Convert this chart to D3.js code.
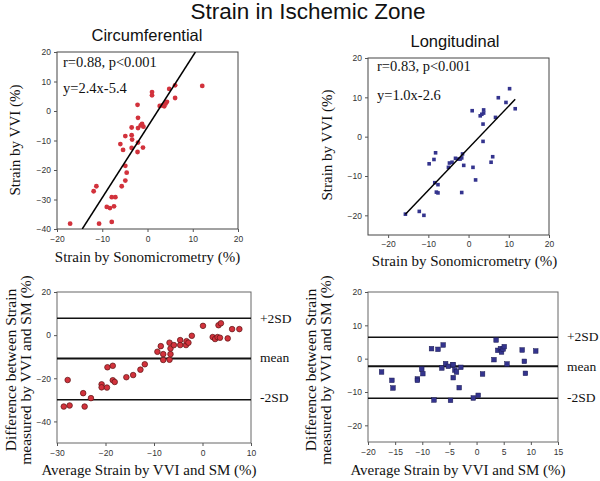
<!DOCTYPE html>
<html><head><meta charset="utf-8">
<script src="https://cdn.jsdelivr.net/npm/d3@7/dist/d3.min.js"></script>
<style>
body{margin:0;background:#fff;}
svg{display:block;}
.tick text{font-family:Arial,"Liberation Sans",sans-serif;font-size:8.5px;fill:#333;}
.serif{font-family:"Liberation Serif","Times New Roman",serif;fill:#111;}
.sans{font-family:Arial,"Liberation Sans",sans-serif;fill:#111;}
</style></head>
<body>
<svg id="c" width="600" height="481"></svg>
<script>
// ---------- Data ----------
// Circumferential: sonomicrometry (x) vs VVI (y)
const circSM  = [-17.1,-11.9,-11.3,-10.7,-9.0,-8.3,-7.9,-7.1,-7.4,-7.9,-5.7,-4.9,-4.6,-4.9,-6.0,-5.4,-4.9,-3.5,-3.4,-3.5,-3.5,-2.2,-2.1,-2.1,-2.1,-2.2,-1.5,-1.2,-1.0,-0.9,1.0,1.0,2.7,3.7,4.0,4.3,4.8,6.1,6.1,12.1,3.3];
const circVVI = [-38.2,-27.2,-25.5,-38.2,-32.5,-32.9,-29.2,-29.2,-32.3,-37.6,-25.5,-23.6,-20.9,-18.6,-11.2,-13.2,-8.5,-12.5,-9.7,-8.2,-5.6,2.1,-2.3,-5.8,-10.7,-13.9,-4.9,-4.4,-12.4,-5.3,6.4,5.3,1.7,1.6,2.5,3.1,7.5,8.7,4.4,8.5,1.9];
const circFit = {slope:2.4, intercept:-5.4};
const circStats = ["r=0.88, p<0.001","y=2.4x-5.4"];

// Longitudinal: sonomicrometry (x) vs VVI (y)
const longSM  = [-15.7,-12.25,-11.1,-9.8,-8.6,-8.2,-8.4,-7.6,-8.0,-7.6,-5.0,-4.75,-4.1,-3.25,-2.5,-1.7,-1.5,-2.1,-1.2,-1.7,0.9,1.1,1.75,2.9,3.3,3.75,3.75,3.6,3.6,5.6,6.0,6.7,7.4,9.3,10.2,11.6];
const longVVI = [-19.7,-19.0,-20.0,-6.9,-5.8,-4.1,-11.7,-12.2,-14.1,-14.3,-7.8,-6.7,-6.5,-5.5,-5.7,-5.4,-4.4,-5.7,-7.3,-14.2,6.6,-7.8,-11.0,5.3,5.7,6.8,6.0,3.2,-1.2,-6.5,-5.1,4.9,9.9,8.7,12.2,7.1];
const longFitX = [-15.7, 11.6];
const longFitY = [-19.7, 9.5];
const longStats = ["r=0.83, p<0.001","y=1.0x-2.6"];

// Bland-Altman circumferential: average (x) vs difference (y)
const baCircAvg  = [-28.6,-27.4,-27.8,-24.6,-24.3,-23.0,-20.8,-20.8,-19.7,-19.6,-18.5,-18.5,-18.1,-15.7,-14.3,-12.8,-11.9,-9.3,-8.6,-8.1,-8.1,-6.8,-6.6,-6.6,-6.8,-5.9,-4.6,-4.6,-3.4,-3.3,-2.9,-2.2,0.1,2.1,2.6,3.1,3.6,3.3,3.8,5.2,6.1,7.6];
const baCircDiff = [-33.1,-32.6,-20.8,-26.9,-33.1,-29.2,-22.8,-24.2,-24.3,-14.9,-14.2,-20.9,-21.7,-19.5,-18.5,-16.0,-13.5,-7.7,-5.1,-8.8,-11.5,-11.4,-8.8,-6.2,-3.5,-4.6,-2.3,-4.6,-4.6,-2.8,-3.5,-0.3,4.3,-0.9,-1.8,-0.9,-1.2,4.6,5.5,-1.5,2.8,2.8];
const baCircLines = [7.8,-10.8,-29.9];

// Bland-Altman longitudinal
const baLongAvg  = [-17.5,-15.6,-15.4,-10.9,-10.9,-10.1,-9.9,-8.3,-7.85,-7.1,-6.15,-6.4,-5.7,-5.2,-4.8,-4.4,-4.3,-4.0,-4.3,-3.7,-3.2,-2.9,-0.6,0.3,1.1,3.2,3.6,3.9,4.4,4.6,4.9,5.1,5.6,8.4,8.8,9.0,10.9];
const baLongDiff = [-4.0,-6.5,-8.8,-6.1,-6.5,-3.1,-4.5,3.0,-12.4,2.8,4.1,-2.8,-1.5,-2.3,-12.5,-1.9,-1.8,-3.4,-5.7,-4.0,-8.7,-2.6,-11.8,-11.0,-4.6,-0.3,5.6,2.5,3.0,2.0,2.9,3.6,-1.6,2.6,-0.8,-4.4,2.3];
const baLongLines = [6.4,-2.3,-11.9];

const sdLabels = ["+2SD","mean","-2SD"];

// Ticks
const circXTicks = [-20,-10,0,10,20], circYTicks = [-40,-30,-20,-10,0,10,20];
const longXTicks = [-20,-10,0,10,20], longYTicks = [-20,-10,0,10,20];
const baCircXTicks = [-30,-20,-10,0,10], baCircYTicks = [-40,-20,0,20];
const baLongXTicks = [-20,-15,-10,-5,0,5,10,15], baLongYTicks = [-20,-10,0,10,20];

// ---------- Drawing ----------
const svg = d3.select("#c");
const RED = "#d2323c", BLUE = "#34348e";

function panel(o){
  const x = d3.scaleLinear().domain(o.xd).range([o.l,o.r]);
  const y = d3.scaleLinear().domain(o.yd).range([o.b,o.t]);
  const g = svg.append("g");
  g.append("rect").attr("x",o.l).attr("y",o.t).attr("width",o.r-o.l).attr("height",o.b-o.t)
    .attr("fill","none").attr("stroke",o.boxColor||"#444").attr("stroke-width",1);
  const ax = g.append("g").attr("transform",`translate(0,${o.b})`)
    .call(d3.axisBottom(x).tickValues(o.xt).tickSize(3).tickSizeOuter(0).tickPadding(o.xpad||4));
  const ay = g.append("g").attr("transform",`translate(${o.l},0)`)
    .call(d3.axisLeft(y).tickValues(o.yt).tickSize(3).tickSizeOuter(0).tickPadding(3));
  [ax,ay].forEach(a=>{a.select(".domain").remove(); a.selectAll("line").attr("stroke","#555");});
  return {x,y,g};
}

function yLabel(lines, cx, cy, size){
  lines.forEach((t,i)=>{
    svg.append("text").attr("class","serif")
      .attr("transform",`translate(${cx[i]},${cy}) rotate(-90)`)
      .attr("text-anchor","middle").attr("font-size",size).text(t);
  });
}
function text(t,x,y,size,cls,anchor){
  svg.append("text").attr("class",cls).attr("x",x).attr("y",y)
    .attr("font-size",size).attr("text-anchor",anchor||"start").text(t);
}

// Titles
text("Strain in Ischemic Zone",308,19,22.5,"sans","middle");
text("Circumferential",147,41,16.5,"sans","middle");
text("Longitudinal",455,47,16.5,"sans","middle");

// Panel 1
{
  const p = panel({l:57,r:238,t:52,b:229,xd:[-20,20],yd:[-40,20],xt:circXTicks,yt:circYTicks});
  svg.append("clipPath").attr("id","c1").append("rect").attr("x",57).attr("y",52).attr("width",181).attr("height",177);
  const yEnds = p.y.domain();
  const xs = yEnds.map(v=>(v-circFit.intercept)/circFit.slope);
  p.g.selectAll("circle").data(circSM).join("circle")
    .attr("cx",d=>p.x(d)).attr("cy",(d,i)=>p.y(circVVI[i])).attr("r",2.4).attr("fill",RED);
  p.g.append("line").attr("clip-path","url(#c1)")
    .attr("x1",p.x(xs[0])).attr("y1",p.y(yEnds[0])).attr("x2",p.x(xs[1])).attr("y2",p.y(yEnds[1]))
    .attr("stroke","#000").attr("stroke-width",1.5);
  text(circStats[0],63,67,14.5,"serif");
  text(circStats[1],63,93,14.5,"serif");
  yLabel(["Strain by VVI (%)"],[20],140,15);
  text("Strain by Sonomicrometry (%)",147.5,262,15,"serif","middle");
}
// Panel 2
{
  const p = panel({l:368,r:549,t:58,b:235,xd:[-25,20],yd:[-25,20],xt:longXTicks,yt:longYTicks,xpad:3});
  p.g.selectAll("rect.pt").data(longSM).join("rect").attr("class","pt")
    .attr("x",d=>p.x(d)-1.8).attr("y",(d,i)=>p.y(longVVI[i])-1.8).attr("width",3.6).attr("height",3.6).attr("fill",BLUE);
  p.g.append("line").attr("x1",p.x(longFitX[0])).attr("y1",p.y(longFitY[0]))
    .attr("x2",p.x(longFitX[1])).attr("y2",p.y(longFitY[1])).attr("stroke","#000").attr("stroke-width",1.5);
  text(longStats[0],377,71,14.5,"serif");
  text(longStats[1],377,100,14.5,"serif");
  yLabel(["Strain by VVI (%)"],[332],145,15);
  text("Strain by Sonomicrometry (%)",464.5,266,15,"serif","middle");
}
// Panel 3
{
  const p = panel({l:57,r:251,t:292,b:443,xd:[-30,10],yd:[-50,20],xt:baCircXTicks,yt:baCircYTicks,boxColor:"#666"});
  baCircLines.forEach((v,i)=>{
    p.g.append("line").attr("x1",57).attr("x2",251).attr("y1",p.y(v)).attr("y2",p.y(v))
      .attr("stroke","#111").attr("stroke-width",i===1?2:1.5);
  });
  p.g.selectAll("circle").data(baCircAvg).join("circle")
    .attr("cx",d=>p.x(d)).attr("cy",(d,i)=>p.y(baCircDiff[i])).attr("r",2.8)
    .attr("fill",RED).attr("stroke","#5a1414").attr("stroke-width",0.7);
  [323,362,402].forEach((yy,i)=>text(sdLabels[i],260,yy,13.5,"serif"));
  yLabel(["Difference between Strain","measured by VVI and SM (%)"],[16,31],370,15.5);
  text("Average Strain by VVI and SM (%)",149,475,15,"serif","middle");
}
// Panel 4
{
  const p = panel({l:368,r:558,t:292,b:442,xd:[-20,15],yd:[-25,20],xt:baLongXTicks,yt:baLongYTicks,boxColor:"#666"});
  baLongLines.forEach((v,i)=>{
    p.g.append("line").attr("x1",368).attr("x2",558).attr("y1",p.y(v)).attr("y2",p.y(v))
      .attr("stroke","#111").attr("stroke-width",i===1?2:1.5);
  });
  p.g.selectAll("rect.pt").data(baLongAvg).join("rect").attr("class","pt")
    .attr("x",d=>p.x(d)-2.3).attr("y",(d,i)=>p.y(baLongDiff[i])-2.3).attr("width",4.6).attr("height",4.6)
    .attr("fill",BLUE).attr("stroke","#1a1a50").attr("stroke-width",0.5);
  [341,371,402].forEach((yy,i)=>text(sdLabels[i],567,yy,13.5,"serif"));
  yLabel(["Difference between Strain","measured by VVI and SM (%)"],[316,331],370,15.5);
  text("Average Strain by VVI and SM (%)",458,475,15,"serif","middle");
}
</script>
</body></html>
